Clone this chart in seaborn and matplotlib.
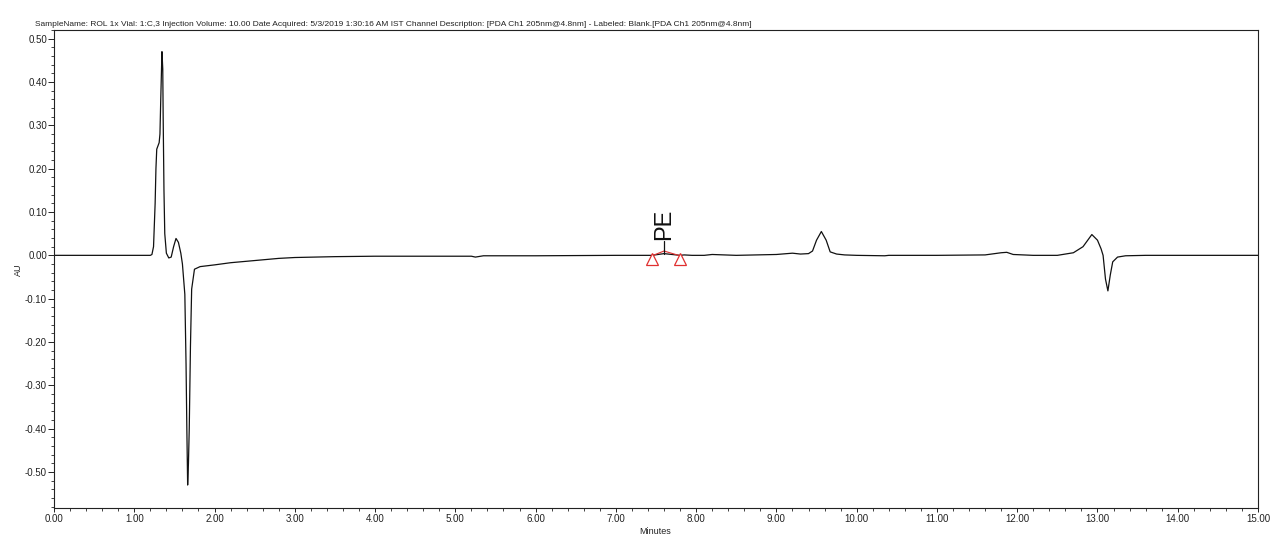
import matplotlib
matplotlib.use("Agg")
import matplotlib.pyplot as plt
from matplotlib.ticker import MultipleLocator, FormatStrFormatter
import seaborn as sns
import pandas as pd

# ---- data ----
time_min = [0.00, 1.20, 1.22, 1.24, 1.26, 1.27, 1.28, 1.30, 1.31, 1.32, 1.33, 1.345,
            1.355, 1.36, 1.37, 1.38, 1.40, 1.43, 1.46, 1.49, 1.52, 1.55, 1.58, 1.60,
            1.63, 1.645, 1.655, 1.665, 1.675, 1.685, 1.70, 1.715, 1.75, 1.82, 2.00,
            2.20, 2.50, 2.80, 3.00, 3.50, 4.00, 4.50, 5.00, 5.20, 5.25, 5.35, 5.50,
            6.00, 7.00, 7.45, 7.60, 7.80, 7.85, 7.95, 8.10, 8.20, 8.50, 9.00, 9.20,
            9.30, 9.40, 9.45, 9.50, 9.56, 9.62, 9.67, 9.75, 9.85, 10.00, 10.35, 10.40,
            11.00, 11.60, 11.80, 11.87, 11.95, 12.20, 12.50, 12.70, 12.82, 12.93, 13.00,
            13.045, 13.07, 13.10, 13.13, 13.16, 13.19, 13.25, 13.35, 13.60, 15.00]
absorbance = [0.000, 0.000, 0.002, 0.020, 0.120, 0.200, 0.245, 0.255, 0.260, 0.280, 0.360, 0.470,
              0.430, 0.320, 0.150, 0.050, 0.005, -0.006, -0.004, 0.020, 0.039, 0.030, 0.005, -0.020,
              -0.090, -0.250, -0.400, -0.530, -0.480, -0.400, -0.210, -0.078, -0.032, -0.026, -0.022,
              -0.017, -0.012, -0.007, -0.005, -0.003, -0.002, -0.002, -0.002, -0.002, -0.004, -0.001, -0.001,
              -0.001, 0.000, 0.000, 0.004, 0.000, 0.001, 0.000, 0.000, 0.002, 0.000, 0.002, 0.005,
              0.003, 0.004, 0.010, 0.035, 0.055, 0.035, 0.008, 0.003, 0.001, 0.000, -0.001, 0.000,
              0.000, 0.001, 0.006, 0.007, 0.002, 0.000, 0.000, 0.006, 0.020, 0.048, 0.035,
              0.015, 0.000, -0.055, -0.082, -0.045, -0.015, -0.004, -0.001, 0.000, 0.000]

peak_name = "PE"
peak_time = 7.60
peak_start = 7.45
peak_end = 7.80
marker_level = -0.008

title = ("SampleName: ROL 1x Vial: 1:C,3 Injection Volume: 10.00 Date Acquired: 5/3/2019 "
         "1:30:16 AM IST Channel Description: [PDA Ch1 205nm@4.8nm] - Labeled: Blank.[PDA Ch1 205nm@4.8nm]")

df = pd.DataFrame({"Minutes": time_min, "AU": absorbance})

sns.set_style("white")
plt.rcParams["font.family"] = ["Liberation Sans Narrow", "Liberation Sans", "DejaVu Sans"]
plt.rcParams["axes.unicode_minus"] = False

fig = plt.figure(figsize=(12.8, 5.46), dpi=100)
ax = fig.add_axes([54 / 1280, 1 - 508 / 546, (1258 - 54) / 1280, (508 - 30) / 546])

sns.lineplot(data=df, x="Minutes", y="AU", estimator=None, sort=False,
             color="#111111", linewidth=0.9, ax=ax)

# integration marks for the named peak
ax.plot([peak_start, peak_time, peak_end], [-0.001, 0.010, -0.001], color="#e03030", lw=0.8)
ax.plot([peak_start, peak_end], [marker_level, marker_level], linestyle="none",
        marker="^", markersize=8, markerfacecolor="white", markeredgecolor="#e03030", markeredgewidth=0.9)
ax.plot([peak_time, peak_time], [0.003, 0.032], color="#111111", lw=0.9)
ax.text(peak_time, 0.036, peak_name, rotation=90, ha="center", va="bottom",
        fontsize=17, family=["Liberation Sans", "DejaVu Sans"], color="#111111")

ax.set_xlim(0, 15)
ax.set_ylim(-0.583, 0.52)
ax.xaxis.set_major_locator(MultipleLocator(1.0))
ax.xaxis.set_minor_locator(MultipleLocator(0.2))
ax.yaxis.set_major_locator(MultipleLocator(0.1))
ax.yaxis.set_minor_locator(MultipleLocator(0.02))
ax.xaxis.set_major_formatter(FormatStrFormatter("%.2f"))
ax.yaxis.set_major_formatter(FormatStrFormatter("%.2f"))
ax.tick_params(axis="y", which="major", direction="out", length=4, width=0.7,
               labelsize=7, colors="#222222", pad=1)
ax.tick_params(axis="y", which="minor", direction="out", length=2.5, width=0.6, colors="#222222")
ax.tick_params(axis="x", which="major", direction="out", length=3, width=0.7,
               labelsize=7, colors="#222222", pad=1)
ax.tick_params(axis="x", which="minor", direction="out", length=2, width=0.6, colors="#222222")
ax.tick_params(axis="both", which="both", bottom=True, left=True)
for s in ax.spines.values():
    s.set_color("#222222")
    s.set_linewidth(0.8)
ax.set_xlabel("")
ax.set_ylabel("")

fig.text(35 / 1280, 1 - 24 / 546, title, fontsize=6.0, ha="left", va="center", color="#222222")
fig.text(18 / 1280, 1 - 270 / 546, "AU", rotation=90, fontsize=6.5, ha="center", va="center", color="#222222")
fig.text(655 / 1280, 1 - 531 / 546, "Minutes", fontsize=6.5, ha="center", va="center", color="#222222")

fig.savefig("out.png", dpi=100)
